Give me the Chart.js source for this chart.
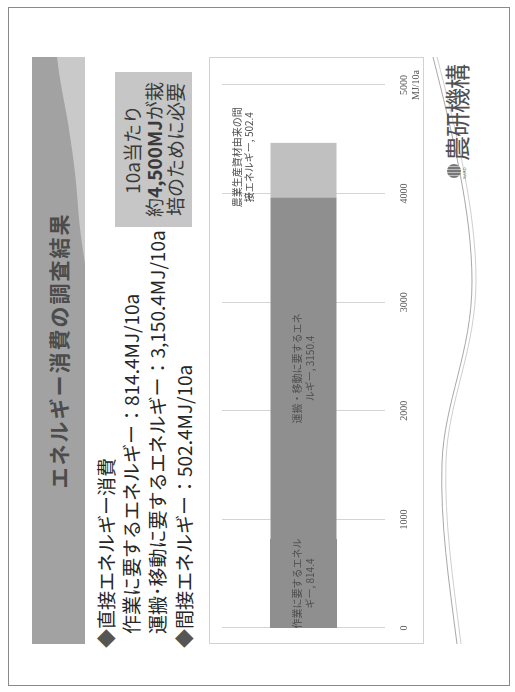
<!DOCTYPE html>
<html lang="ja">
<head>
<meta charset="utf-8">
<script src="https://cdn.jsdelivr.net/npm/chart.js@4.4.1/dist/chart.umd.min.js"></script>
<style>
  html, body { margin: 0; padding: 0; background: #fff; }
  body { width: 515px; height: 692px; overflow: hidden; position: relative; }
  /* the slide is laid out landscape and turned a quarter turn counter-clockwise */
  #slide {
    position: absolute; left: 0; top: 0; width: 692px; height: 515px;
    transform-origin: 0 0; transform: translate(0px, 692px) rotate(-90deg);
    font-family: "Noto Sans CJK JP", "Noto Sans", sans-serif; background: #fff;
  }
  .abs { position: absolute; }
  #frame { left: 6px; top: 8px; width: 679px; height: 502px; border: 1px solid #8a8a8a; box-sizing: border-box; }
  #banner { left: 48px; top: 32px; width: 587px; height: 53px; }
  #title { left: 48px; top: 32px; width: 587px; height: 53px; line-height: 53px; text-align: center;
           font-size: 21px; font-weight: 700; color: #4c4c4c; letter-spacing: 2px; }
  .bl { white-space: nowrap; font-size: 19px; color: #262626; line-height: 26px; }
  .dia { color: #555; }
  #note { left: 465px; top: 115px; width: 155px; height: 77px; background: #c6c6c6;
          text-align: center; font-size: 19px; line-height: 21.5px; color: #3a3a3a; padding-top: 6px; box-sizing: border-box; }
  #note b { font-weight: 700; }
  #chartBox { left: 48px; top: 209px; width: 587px; height: 215px; border: 1px solid #d2d2d2; box-sizing: border-box; }
  #chartCanvas { position: absolute; left: 48px; top: 209px; }
  #logo { left: 531px; top: 442px; font-size: 25px; line-height: 28px; color: #505050; white-space: nowrap; letter-spacing: -1px; }
  #logoMark { left: 514px; top: 447px; width: 14px; height: 14px; border-radius: 50%;
              background: repeating-linear-gradient(90deg, #777 0 2px, #bbb 2px 3px); }
  #logoSub { left: 513px; top: 462px; font-size: 4px; color: #666; font-family: "DejaVu Sans", sans-serif; }
  #deco { left: 0; top: 0; }
</style>
</head>
<body>
<div id="slide">
  <div id="frame" class="abs"></div>

  <svg id="banner" class="abs" width="587" height="53" viewBox="0 0 587 53">
    <rect x="0" y="0" width="587" height="53" fill="#a2a2a2"/>
    <path d="M587,25 C560,28 540,33 521,36 C495,40 470,44 437,46 C410,48 395,51 380,53 L587,53 Z" fill="#c9c9c9"/>
  </svg>
  <div id="title" class="abs">エネルギー消費の調査結果</div>

  <div id="b1" class="abs bl" style="left:44px; top:93px;"></div>
  <div id="b2" class="abs bl" style="left:58px; top:118px;"></div>
  <div id="b3" class="abs bl" style="left:58px; top:144px;"></div>
  <div id="b4" class="abs bl" style="left:44px; top:171px;"></div>

  <div id="note" class="abs">10a当たり<br>約<b>4,500MJ</b>が栽<br>培のために必要</div>

  <svg id="deco" class="abs" width="692" height="515" viewBox="0 0 692 515">
    <path d="M48,457 C110,449 170,440 229,442 C290,444 340,472 410,472 C480,472 560,452 635,433" fill="none" stroke="#a8a8a8" stroke-width="1"/>
    <path d="M48,461 C112,453 172,444 231,446 C292,448 342,476 412,476 C482,476 562,456 635,437" fill="none" stroke="#cfcfcf" stroke-width="1"/>
  </svg>

  <div id="chartBox" class="abs"></div>
  <canvas id="chartCanvas" width="587" height="215"></canvas>

  <div id="logoMark" class="abs"></div>
  <div id="logoSub" class="abs">NARO</div>
  <div id="logo" class="abs">農研機構</div>
</div>

<script>
// energy used per 10a, MJ
const categories = [''];
const seriesNames = ['作業に要するエネルギー', '運搬・移動に要するエネルギー', '農業生産資材由来の間接エネルギー'];
const workEnergy = [814.4];
const transportEnergy = [3150.4];
const indirectEnergy = [502.4];
const tickValues = [0, 1000, 2000, 3000, 4000, 5000];
const axisUnit = 'MJ/10a';

const fmt = v => v.toLocaleString('en-US', { minimumFractionDigits: 1, maximumFractionDigits: 1 });

// bullet lines on the slide
document.getElementById('b1').innerHTML = '<span class="dia">◆</span>直接エネルギー消費';
document.getElementById('b2').textContent = '作業に要するエネルギー：' + fmt(workEnergy[0]) + 'MJ/10a';
document.getElementById('b3').textContent = '運搬･移動に要するエネルギー：' + fmt(transportEnergy[0]) + 'MJ/10a';
document.getElementById('b4').innerHTML = '<span class="dia">◆</span>間接エネルギー：' + fmt(indirectEnergy[0]) + 'MJ/10a';

// wrap a label into lines no wider than maxW
function wrapText(ctx, text, maxW) {
  const lines = [];
  let cur = '';
  for (const ch of text) {
    if (cur && ctx.measureText(cur + ch).width > maxW) { lines.push(cur); cur = ch; }
    else cur += ch;
  }
  if (cur) lines.push(cur);
  return lines;
}

// "series name, value" labels on each stacked segment
const segmentLabels = {
  id: 'segmentLabels',
  afterDatasetsDraw(chart, args, opts) {
    const ctx = chart.ctx;
    ctx.save();
    ctx.font = '10px "Noto Sans CJK JP"';
    ctx.fillStyle = '#4e4e4e';
    ctx.textAlign = 'center';
    ctx.textBaseline = 'middle';
    const lh = 12.5;
    chart.data.datasets.forEach((ds, i) => {
      const el = chart.getDatasetMeta(i).data[0];
      const spec = opts.specs[i];
      const lines = wrapText(ctx, ds.label + ', ' + ds.data[0], spec.wrap);
      const cx = (el.x + el.base) / 2 + (spec.dx || 0);
      let y0;
      if (spec.above) {
        y0 = el.y - el.height / 2 - spec.gap - (lines.length - 1) * lh;
      } else {
        y0 = el.y - (lines.length - 1) * lh / 2;
      }
      lines.forEach((l, k) => ctx.fillText(l, cx, y0 + k * lh));
    });
    ctx.restore();
  }
};

new Chart(document.getElementById('chartCanvas'), {
  type: 'bar',
  data: {
    labels: categories,
    datasets: [
      // slightly inflated so no seam shows against the same-coloured next segment
      { label: seriesNames[0], data: workEnergy, backgroundColor: '#8f8f8f', inflateAmount: 0.6 },
      { label: seriesNames[1], data: transportEnergy, backgroundColor: '#8f8f8f' },
      { label: seriesNames[2], data: indirectEnergy, backgroundColor: '#c0c0c0' }
    ]
  },
  options: {
    indexAxis: 'y',
    responsive: false,
    animation: false,
    devicePixelRatio: 1,
    layout: { padding: { left: 16, right: 18, top: 13, bottom: 0 } },
    datasets: { bar: { categoryPercentage: 0.45, barPercentage: 0.9, borderWidth: 0 } },
    scales: {
      x: {
        stacked: true,
        min: tickValues[0],
        max: tickValues[tickValues.length - 1],
        afterBuildTicks: s => { s.ticks = tickValues.map(v => ({ value: v })); },
        afterFit: s => { s.height = 39; },
        grid: { color: '#d4d4d4', lineWidth: 1, drawTicks: false },
        border: { display: false },
        ticks: {
          padding: 13,
          color: '#555',
          font: { family: '"Liberation Serif", serif', size: 10 },
          callback: v => v === tickValues[tickValues.length - 1] ? [String(v), axisUnit] : String(v)
        }
      },
      y: { stacked: true, display: false }
    },
    plugins: {
      legend: { display: false },
      tooltip: { enabled: false },
      segmentLabels: {
        specs: [
          { wrap: 95 },
          { wrap: 115 },
          { wrap: 105, above: true, gap: 21, dx: 13 }
        ]
      }
    }
  },
  plugins: [segmentLabels]
});
</script>
</body>
</html>
